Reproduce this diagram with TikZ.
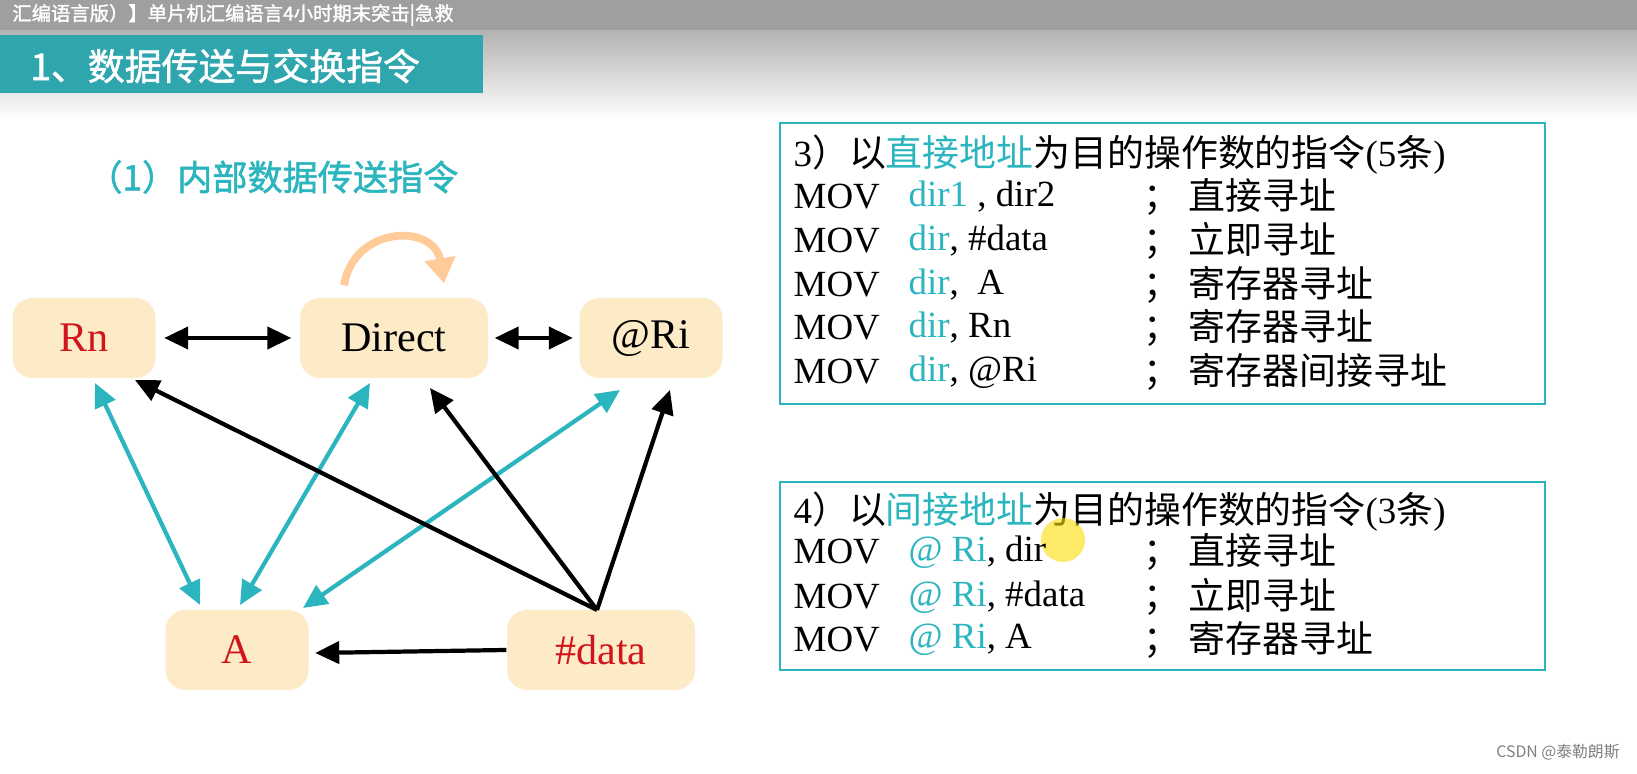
\documentclass[tikz,border=0pt]{standalone}
\usepackage{fontspec}
\setmainfont{Liberation Serif}
\newfontfamily\cjk{Noto Sans CJK SC}
\newfontfamily\cjkb{Noto Sans CJK SC}[FakeBold=1.5]
\usetikzlibrary{arrows.meta,calc}
\definecolor{teal1}{HTML}{2BB5BF}
\definecolor{beige}{HTML}{FDEBC8}
\definecolor{redt}{HTML}{D0161B}
\definecolor{titlebg}{HTML}{2FA5AE}
\begin{document}
\begin{tikzpicture}[x=0.1mm,y=-0.1mm,
 nbox/.style={fill=beige,rounded corners=2mm,minimum width=14.3mm,minimum height=8mm,font=\fontsize{12}{14}\selectfont},
 barr/.style={-{Triangle[length=2.4mm,width=2.2mm]},line width=1.2pt,black},
 bdarr/.style={{Triangle[length=2.4mm,width=2.2mm]}-{Triangle[length=2.4mm,width=2.2mm]},line width=1.2pt,black},
 tdarr/.style={{Triangle[length=2.4mm,width=2.2mm]}-{Triangle[length=2.4mm,width=2.2mm]},line width=1.2pt,teal1},
 ibox/.style={draw=teal1,line width=0.6pt},
 ln/.style={anchor=west,font=\fontsize{10.5}{12}\selectfont,inner sep=0pt}]
\useasboundingbox (0,0) rectangle (1637,774);
\fill[white] (0,0) rectangle (1637,774);
\shade[top color=gray!60,bottom color=white] (0,30) rectangle (1637,120);
\fill[gray!75] (0,0) rectangle (1637,30);
\node[anchor=west,text=white,font=\cjkb\fontsize{5.5}{6}\selectfont] (top) at (0,15) {汇编语言版）】单片机汇编语言4小时期末突击|急救};
\fill[titlebg] (0,35) rectangle (483,93);
\node[anchor=west,text=white,font=\cjkb\fontsize{10.5}{12}\selectfont] (title) at (18,66) {1、数据传送与交换指令};
\node[anchor=west,text=teal1,font=\cjkb\fontsize{10}{12}\selectfont] (sub) at (75,177) {（1）内部数据传送指令};
% nodes
\node[nbox,text=redt] (rn) at (84,338) {Rn};
\node[nbox,minimum width=18.8mm] (dir) at (394,338) {Direct};
\node[nbox] (ri) at (651,338) {@Ri};
\node[nbox,text=redt] (a) at (237,650) {A};
\node[nbox,minimum width=18.8mm,text=redt] (data) at (601,650) {\#data};
\draw[-{Triangle[length=2.5mm,width=3mm]},color=orange!40,line width=2.2pt] ($(dir.north)+(-50,-12)$) .. controls +(10,-60) and +(-10,-60) .. ($(dir.north)+(50,-14)$);
% arrows
\draw[bdarr] ($(rn.east)+(8,0)$) -- ($(dir.west)+(-8,0)$);
\draw[bdarr] ($(dir.east)+(6,0)$) -- ($(ri.west)+(-6,0)$);
\coordinate (dt) at (597,610);
\draw[tdarr] (95,383) -- (200,605);
\draw[tdarr] (370,383) -- (240,605);
\draw[tdarr] (620,390) -- (303,608);
\draw[barr] (dt) -- (135,380);
\draw[barr] (dt) -- (430,388);
\draw[barr] (dt) -- (670,390);
\draw[barr] (data.west) -- ($(a.east)+(6,3)$);
% right boxes
\draw[ibox] (780,123) rectangle (1545,404);
\draw[ibox] (780,482) rectangle (1545,670);
\node[ln] (h1) at (793,155) {3{\cjk ）以}\textcolor{teal1}{\cjk 直接地址}{\cjk 为目的操作数的指令}(5{\cjk 条})};
\foreach \y/\op/\m [count=\i] in {197/{\textcolor{teal1}{dir1} , dir2}/直接寻址,241/{\textcolor{teal1}{dir}, \#data}/立即寻址,285/{\textcolor{teal1}{dir}, \ A}/寄存器寻址,328/{\textcolor{teal1}{dir}, Rn}/寄存器寻址,372/{\textcolor{teal1}{dir}, @Ri}/寄存器间接寻址}{
 \node[ln] (m\i) at (793,\y) {MOV};
 \node[ln] (o\i) at (908,\y) {\op};
 \node[ln] (c\i) at (1143,\y) {\cjk ；\ \m};
}
\node[ln] (h2) at (793,512) {4{\cjk ）以}\textcolor{teal1}{\cjk 间接地址}{\cjk 为目的操作数的指令}(3{\cjk 条})};
\fill[yellow!80!orange,opacity=0.6] (1063,540) circle (22);
\foreach \y/\op/\m [count=\i] in {552/{\textcolor{teal1}{@ Ri}, dir}/直接寻址,597/{\textcolor{teal1}{@ Ri}, \#data}/立即寻址,640/{\textcolor{teal1}{@ Ri}, A}/寄存器寻址}{
 \node[ln] (mm\i) at (793,\y) {MOV};
 \node[ln] (oo\i) at (908,\y) {\op};
 \node[ln] (cc\i) at (1143,\y) {\cjk ；\ \m};
}
\node[anchor=east,text=gray,font=\cjk\fontsize{4.5}{5}\selectfont] (csdn) at (1632,752) {CSDN @泰勒朗斯};
\end{tikzpicture}
\end{document}
